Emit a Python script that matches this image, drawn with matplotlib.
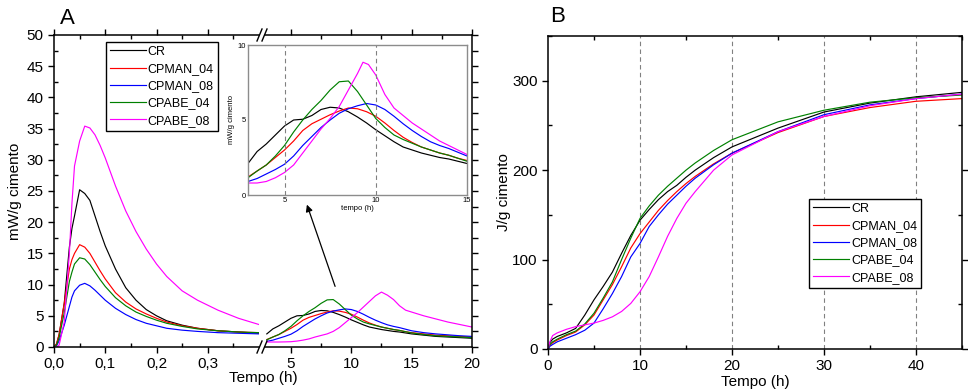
import matplotlib
matplotlib.use("Agg")
import matplotlib.pyplot as plt
from matplotlib.ticker import MultipleLocator, FuncFormatter, FixedLocator
from matplotlib.lines import Line2D

plt.rcParams['font.family'] = ['Liberation Sans', 'DejaVu Sans']

names = ["CR", "CPMAN_04", "CPMAN_08", "CPABE_04", "CPABE_08"]
colors = ["#000000", "#ff0000", "#0000ff", "#008000", "#ff00ff"]

# --- Panel A, early part (hours 0 - 0.4)
t_early = [0, 0.005, 0.01, 0.02, 0.03, 0.035, 0.04, 0.05, 0.06, 0.07, 0.08, 0.09, 0.1,
           0.12, 0.14, 0.16, 0.18, 0.2, 0.22, 0.25, 0.28, 0.32, 0.36, 0.4]
cr_early = [0, 0.5, 2, 7, 16, 19, 21, 25.2, 24.6, 23.5, 21, 18.5, 16.2,
            12.5, 9.5, 7.5, 6.0, 5.0, 4.2, 3.5, 3.0, 2.6, 2.4, 2.2]
cpman04_early = [0, 0.5, 2, 7, 12.5, 14, 15, 16.4, 16.0, 15.0, 13.6, 12.2, 10.9,
                 8.7, 7.2, 6.1, 5.3, 4.6, 4.0, 3.4, 3.0, 2.6, 2.4, 2.3]
cpman08_early = [0, 0.2, 1, 3.5, 6.5, 8, 9, 9.9, 10.2, 9.8, 9.1, 8.3, 7.5,
                 6.2, 5.2, 4.4, 3.8, 3.4, 3.0, 2.7, 2.5, 2.3, 2.2, 2.1]
cpabe04_early = [0, 0.3, 1.5, 5.5, 10.5, 12, 13.3, 14.3, 14.1, 13.2, 12.0, 10.8, 9.7,
                 7.9, 6.6, 5.6, 4.9, 4.3, 3.8, 3.3, 2.9, 2.6, 2.4, 2.3]
cpabe08_early = [0, 0, 0.3, 4, 15, 23, 29, 33, 35.4, 35.1, 34, 32.3, 30.3,
                 25.8, 21.8, 18.5, 15.7, 13.3, 11.3, 9.0, 7.5, 5.9, 4.6, 3.6]

# --- Panel A, later part (hours 3 - 20)
t_hours = [3, 3.5, 4, 4.5, 5, 5.5, 6, 6.5, 7, 7.5, 8, 8.5, 9, 9.5, 10, 10.5, 11, 11.5,
           12, 12.5, 13, 13.5, 14, 14.5, 15, 16, 17, 18, 19, 20]
cr_hours = [2.1, 2.9, 3.4, 4.0, 4.6, 5.0, 5.05, 5.3, 5.7, 5.85, 5.8, 5.55, 5.2, 4.8, 4.35, 3.95,
            3.55, 3.2, 3.0, 2.8, 2.65, 2.5, 2.4, 2.25, 2.1, 1.9, 1.7, 1.6, 1.5, 1.4]
cpman04_hours = [1.2, 1.6, 2.0, 2.5, 3.0, 3.6, 4.3, 4.75, 5.05, 5.35, 5.6, 5.8, 5.75, 5.55, 5.25,
                 4.8, 4.3, 3.85, 3.5, 3.2, 3.0, 2.8, 2.65, 2.45, 2.3, 2.1, 1.9, 1.8, 1.7, 1.6]
cpman08_hours = [0.9, 1.1, 1.4, 1.7, 2.05, 2.6, 3.3, 3.9, 4.5, 5.0, 5.45, 5.75, 5.95, 6.1, 6.0,
                 5.7, 5.25, 4.75, 4.3, 3.9, 3.55, 3.3, 3.1, 2.85, 2.6, 2.3, 2.1, 1.95, 1.8, 1.7]
cpabe04_hours = [1.15, 1.6, 2.0, 2.6, 3.3, 4.2, 5.0, 5.7, 6.3, 7.0, 7.55, 7.6, 6.9, 6.0, 5.1,
                 4.5, 4.0, 3.7, 3.45, 3.2, 3.0, 2.8, 2.65, 2.45, 2.25, 2.0, 1.8, 1.7, 1.6, 1.5]
cpabe08_hours = [0.8, 0.8, 0.8, 0.82, 0.85, 0.95, 1.1, 1.3, 1.6, 1.85, 2.1, 2.5, 3.1, 3.9, 4.7,
                 5.5, 6.4, 7.3, 8.2, 8.8, 8.3, 7.6, 6.6, 5.9, 5.6, 5.0, 4.5, 4.0, 3.6, 3.2]

# --- Inset (hours 3 - 15); CPABE_08 curve as drawn in the inset
t_inset_abe08 = [3, 3.5, 4, 4.5, 5, 5.5, 6, 6.5, 7, 7.5, 8, 8.5, 9, 9.3, 9.6, 10, 10.5, 11,
                 11.5, 12, 12.5, 13, 13.5, 14, 14.5, 15]
cpabe08_inset = [0.8, 0.8, 0.9, 1.15, 1.5, 2.0, 2.8, 3.6, 4.4, 5.1, 5.9, 7.0, 8.1, 8.85, 8.7,
                 8.0, 6.7, 5.8, 5.3, 4.8, 4.4, 4.0, 3.6, 3.3, 3.0, 2.7]

# --- Panel B, cumulative heat
t_cum = [0, 0.2, 0.5, 1, 2, 3, 4, 5, 6, 7, 8, 9, 10, 11, 12, 13, 14, 15, 16, 18, 20, 25, 30, 35, 40, 45]
cr_cum = [0, 7, 11, 14, 18, 23, 38, 55, 70, 86, 107, 127, 144, 156, 167, 176, 183, 192, 200, 214,
          226, 247, 265, 275, 282, 287]
cpman04_cum = [0, 4, 7, 10, 15, 19, 27, 38, 55, 72, 92, 113, 129, 142, 155, 166, 176, 185, 193,
               207, 219, 242, 260, 270, 277, 280]
cpman08_cum = [0, 3, 5, 8, 12, 16, 21, 29, 45, 62, 81, 103, 118, 137, 150, 162, 172, 182, 191,
               206, 219, 243, 262, 273, 280, 285]
cpabe04_cum = [0, 5, 8, 11, 16, 20, 28, 40, 57, 75, 100, 124, 146, 160, 172, 182, 191, 200, 208,
               222, 234, 254, 267, 276, 281, 284]
cpabe08_cum = [0, 8, 15, 18, 22, 25, 27, 29, 32, 36, 42, 51, 64, 81, 103, 126, 146, 163, 176,
               200, 217, 243, 260, 272, 280, 285]

early = [cr_early, cpman04_early, cpman08_early, cpabe04_early, cpabe08_early]
hours = [cr_hours, cpman04_hours, cpman08_hours, cpabe04_hours, cpabe08_hours]
cum = [cr_cum, cpman04_cum, cpman08_cum, cpabe04_cum, cpabe08_cum]

W, H = 968, 392
fig = plt.figure(figsize=(W / 100, H / 100), dpi=100)


def box(l, t, r, b):
    return [l / W, 1 - b / H, (r - l) / W, (b - t) / H]


FS = 11
LW = 0.85
comma = FuncFormatter(lambda v, p: ("%.1f" % v).replace(".", ","))

# ---------- Panel A ----------
ax1 = fig.add_axes(box(54, 35, 259, 347))
ax2 = fig.add_axes(box(265, 35, 472, 347))
for ys, c, n in zip(early, colors, names):
    ax1.plot(t_early, ys, color=c, lw=LW, label=n)
for ys, c in zip(hours, colors):
    ax2.plot(t_hours, ys, color=c, lw=LW)

ax1.set_xlim(0, 0.4)
ax1.set_ylim(0, 50)
ax2.set_xlim(2.85, 20)
ax2.set_ylim(0, 50)

ax1.xaxis.set_major_locator(FixedLocator([0, 0.1, 0.2, 0.3]))
ax1.xaxis.set_minor_locator(FixedLocator([0.05, 0.15, 0.25, 0.35]))
ax1.xaxis.set_major_formatter(comma)
ax1.yaxis.set_major_locator(MultipleLocator(5))
ax1.yaxis.set_minor_locator(MultipleLocator(2.5))
ax1.spines['right'].set_visible(False)
ax1.tick_params(which='major', direction='out', length=4, labelsize=FS, width=1,
                top=False, right=False)
ax1.tick_params(which='minor', direction='in', length=3, width=1, top=True, right=False)
ax1.tick_params(axis='x', which='major', top=True)

ax2.xaxis.set_major_locator(MultipleLocator(5))
ax2.xaxis.set_minor_locator(MultipleLocator(2.5))
ax2.yaxis.set_major_locator(MultipleLocator(5))
ax2.yaxis.set_minor_locator(MultipleLocator(2.5))
ax2.spines['left'].set_visible(False)
ax2.tick_params(axis='y', which='both', left=False, right=True, labelleft=False,
                direction='out', length=4, width=1)
ax2.tick_params(axis='x', which='major', direction='out', length=4, width=1, labelsize=FS,
                top=True)
ax2.tick_params(axis='x', which='minor', direction='in', length=3, width=1, top=True)
for ax in (ax1, ax2):
    for s in ax.spines.values():
        s.set_linewidth(1.1)

ax1.set_ylabel("mW/g cimento", fontsize=FS, labelpad=3)
fig.text(263 / W, 1 - 378 / H, "Tempo (h)", fontsize=FS, ha='center', va='center')
fig.text(60 / W, 1 - 18 / H, "A", fontsize=16, ha='left', va='center')

# break marks
for yb in (35, 347):
    for xb in (257, 262):
        fig.add_artist(Line2D([xb / W, (xb + 5) / W], [1 - (yb + 6) / H, 1 - (yb - 6) / H],
                              color='black', lw=1, transform=fig.transFigure))

leg_kw = dict(fontsize=9, frameon=True, fancybox=False, edgecolor='black', framealpha=1,
              borderpad=0.3, labelspacing=0.42, handlelength=2.9, handletextpad=0.15,
              borderaxespad=0)
leg1 = ax1.legend(loc='upper left', bbox_to_anchor=(106 / W, 1 - 42 / H),
                  bbox_transform=fig.transFigure, **leg_kw)
leg1.get_frame().set_linewidth(1)

# inset
axi = fig.add_axes(box(248, 45, 467, 195))
for ys, c in zip(hours[:4], colors[:4]):
    axi.plot(t_hours, ys, color=c, lw=LW)
axi.plot(t_inset_abe08, cpabe08_inset, color=colors[4], lw=LW)
axi.set_xlim(3, 15)
axi.set_ylim(0, 10)
axi.set_xticks([5, 10, 15])
axi.set_yticks([0, 5, 10])
axi.tick_params(length=0, labelsize=5.5, pad=1.5)
for x in (5, 10):
    axi.axvline(x, color='gray', lw=0.8, ls=(0, (4, 3)))
for s in axi.spines.values():
    s.set_color('#8c8c8c')
    s.set_linewidth(1)
axi.set_xlabel("tempo (h)", fontsize=5.5, labelpad=1)
axi.set_ylabel("mW/g cimento", fontsize=5.5, labelpad=2)

fig.add_artist(matplotlib.patches.FancyArrowPatch(
    (336 / W, 1 - 289 / H), (306 / W, 1 - 202 / H), transform=fig.transFigure,
    arrowstyle='-|>', mutation_scale=10, color='black', lw=0.9))

# ---------- Panel B ----------
axb = fig.add_axes(box(548, 36, 962, 349))
for ys, c, n in zip(cum, colors, names):
    axb.plot(t_cum, ys, color=c, lw=LW, label=n)
axb.set_xlim(0, 45)
axb.set_ylim(0, 350)
axb.xaxis.set_major_locator(MultipleLocator(10))
axb.xaxis.set_minor_locator(MultipleLocator(5))
axb.yaxis.set_major_locator(MultipleLocator(100))
axb.yaxis.set_minor_locator(MultipleLocator(50))
axb.tick_params(which='major', direction='out', length=4, width=1, labelsize=FS)
axb.tick_params(which='minor', direction='in', length=3, width=1, top=True, right=True)
axb.tick_params(axis='y', which='major', right=True)
for x in (10, 20, 30, 40):
    axb.axvline(x, color='gray', lw=0.8, ls=(0, (4, 3)), zorder=0)
for s in axb.spines.values():
    s.set_linewidth(1.1)
axb.set_ylabel("J/g cimento", fontsize=FS, labelpad=1)
fig.text(755 / W, 1 - 382 / H, "Tempo (h)", fontsize=FS, ha='center', va='center')
fig.text(550 / W, 1 - 16 / H, "B", fontsize=16, ha='left', va='center')

leg2 = axb.legend(loc='upper left', bbox_to_anchor=(809 / W, 1 - 199 / H),
                  bbox_transform=fig.transFigure, **leg_kw)
leg2.get_frame().set_linewidth(1)

fig.savefig("out.png", dpi=100)
